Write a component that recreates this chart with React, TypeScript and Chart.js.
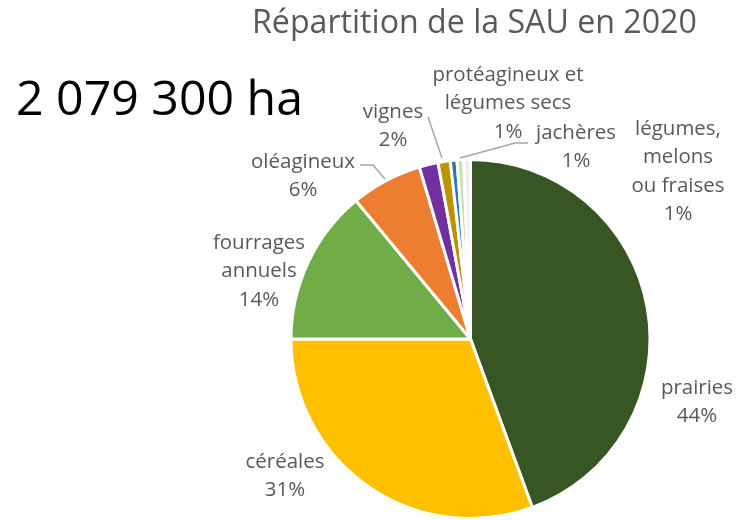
import React, { useEffect, useRef } from "react";
import { Chart, registerables } from "chart.js";

Chart.register(...registerables);

// ---- data ----
const categories = [
  "prairies",
  "céréales",
  "fourrages annuels",
  "oléagineux",
  "vignes",
  "protéagineux et légumes secs",
  "jachères",
  "légumes, melons ou fraises",
  "autres",
];
const values = [44.4, 30.6, 14.0, 6.4, 1.7, 1.1, 0.6, 0.6, 0.6];
const percentLabels = ["44%", "31%", "14%", "6%", "2%", "1%", "1%", "1%", ""];
const labelLines = [
  ["prairies"],
  ["céréales"],
  ["fourrages", "annuels"],
  ["oléagineux"],
  ["vignes"],
  ["protéagineux et", "légumes secs"],
  ["jachères"],
  ["légumes,", "melons", "ou fraises"],
  [],
];
const colors = [
  "#375623",
  "#FFC000",
  "#70AD47",
  "#ED7D31",
  "#7030A0",
  "#BF9000",
  "#2E75B6",
  "#C5E0B4",
  "#EDEDED",
];
const titleText = "Répartition de la SAU en 2020";
const totalText = "2 079 300 ha";

// ---- label layout (x center, y of first line middle) ----
const labelPos: ({ x: number; y: number } | null)[] = [
  { x: 697, y: 388 },
  { x: 285, y: 462 },
  { x: 259, y: 243 },
  { x: 303, y: 162 },
  { x: 393, y: 112 },
  { x: 508, y: 75 },
  { x: 576, y: 133 },
  { x: 678, y: 129 },
  null,
];
const leaderLines: (number[][] | null)[] = [
  null,
  null,
  null,
  [[360, 165], [373, 165], [385, 179]],
  [[428, 117], [442, 158]],
  [[528, 143], [515, 143], [460, 158]],
  null,
  null,
  null,
];

const FONT = "'Open Sans', sans-serif";
const LINE_H = 28.5;

function fitSize(ctx: CanvasRenderingContext2D, text: string, width: number) {
  ctx.font = `100px ${FONT}`;
  const w = ctx.measureText(text).width;
  return (100 * width) / w;
}

const textPlugin = {
  id: "textPlugin",
  afterDraw(chart: any) {
    const ctx = chart.ctx as CanvasRenderingContext2D;
    ctx.save();
    // title
    const ts = fitSize(ctx, titleText, 445);
    ctx.fillStyle = "#595959";
    ctx.font = `${ts}px ${FONT}`;
    ctx.textAlign = "left";
    ctx.textBaseline = "alphabetic";
    ctx.fillText(titleText, 252, 33);
    // total
    const ns = fitSize(ctx, totalText, 287);
    ctx.fillStyle = "#000000";
    ctx.font = `${ns}px ${FONT}`;
    ctx.fillText(totalText, 16, 115);
    // leader lines
    ctx.strokeStyle = "#A6A6A6";
    ctx.lineWidth = 1.5;
    leaderLines.forEach((pts) => {
      if (!pts) return;
      ctx.beginPath();
      pts.forEach((p, i) => (i === 0 ? ctx.moveTo(p[0], p[1]) : ctx.lineTo(p[0], p[1])));
      ctx.stroke();
    });
    // labels
    const ls = fitSize(ctx, "oléagineux", 104);
    ctx.fillStyle = "#595959";
    ctx.font = `${ls}px ${FONT}`;
    ctx.textAlign = "center";
    ctx.textBaseline = "middle";
    labelLines.forEach((lines, i) => {
      const pos = labelPos[i];
      if (!pos) return;
      const all = [...lines, percentLabels[i]];
      all.forEach((t, k) => ctx.fillText(t, pos.x, pos.y + k * LINE_H));
    });
    ctx.restore();
  },
};

export default function App() {
  const ref = useRef<HTMLCanvasElement>(null);
  useEffect(() => {
    document.body.style.margin = "0";
    const chart = new Chart(ref.current!, {
      type: "pie",
      data: {
        labels: categories,
        datasets: [
          {
            data: values,
            backgroundColor: colors,
            borderColor: "#FFFFFF",
            borderWidth: 3,
          },
        ],
      },
      options: {
        responsive: false,
        animation: false,
        events: [],
        layout: { padding: { left: 289.5, right: 84.5, top: 158, bottom: 0 } },
        plugins: {
          legend: { display: false },
          title: { display: false },
          tooltip: { enabled: false },
        },
      },
      plugins: [textPlugin],
    });
    return () => chart.destroy();
  }, []);
  return (
    <div style={{ position: "fixed", left: 0, top: 0, width: 736, height: 520, background: "#fff" }}>
      <canvas ref={ref} width={736} height={520} />
    </div>
  );
}
